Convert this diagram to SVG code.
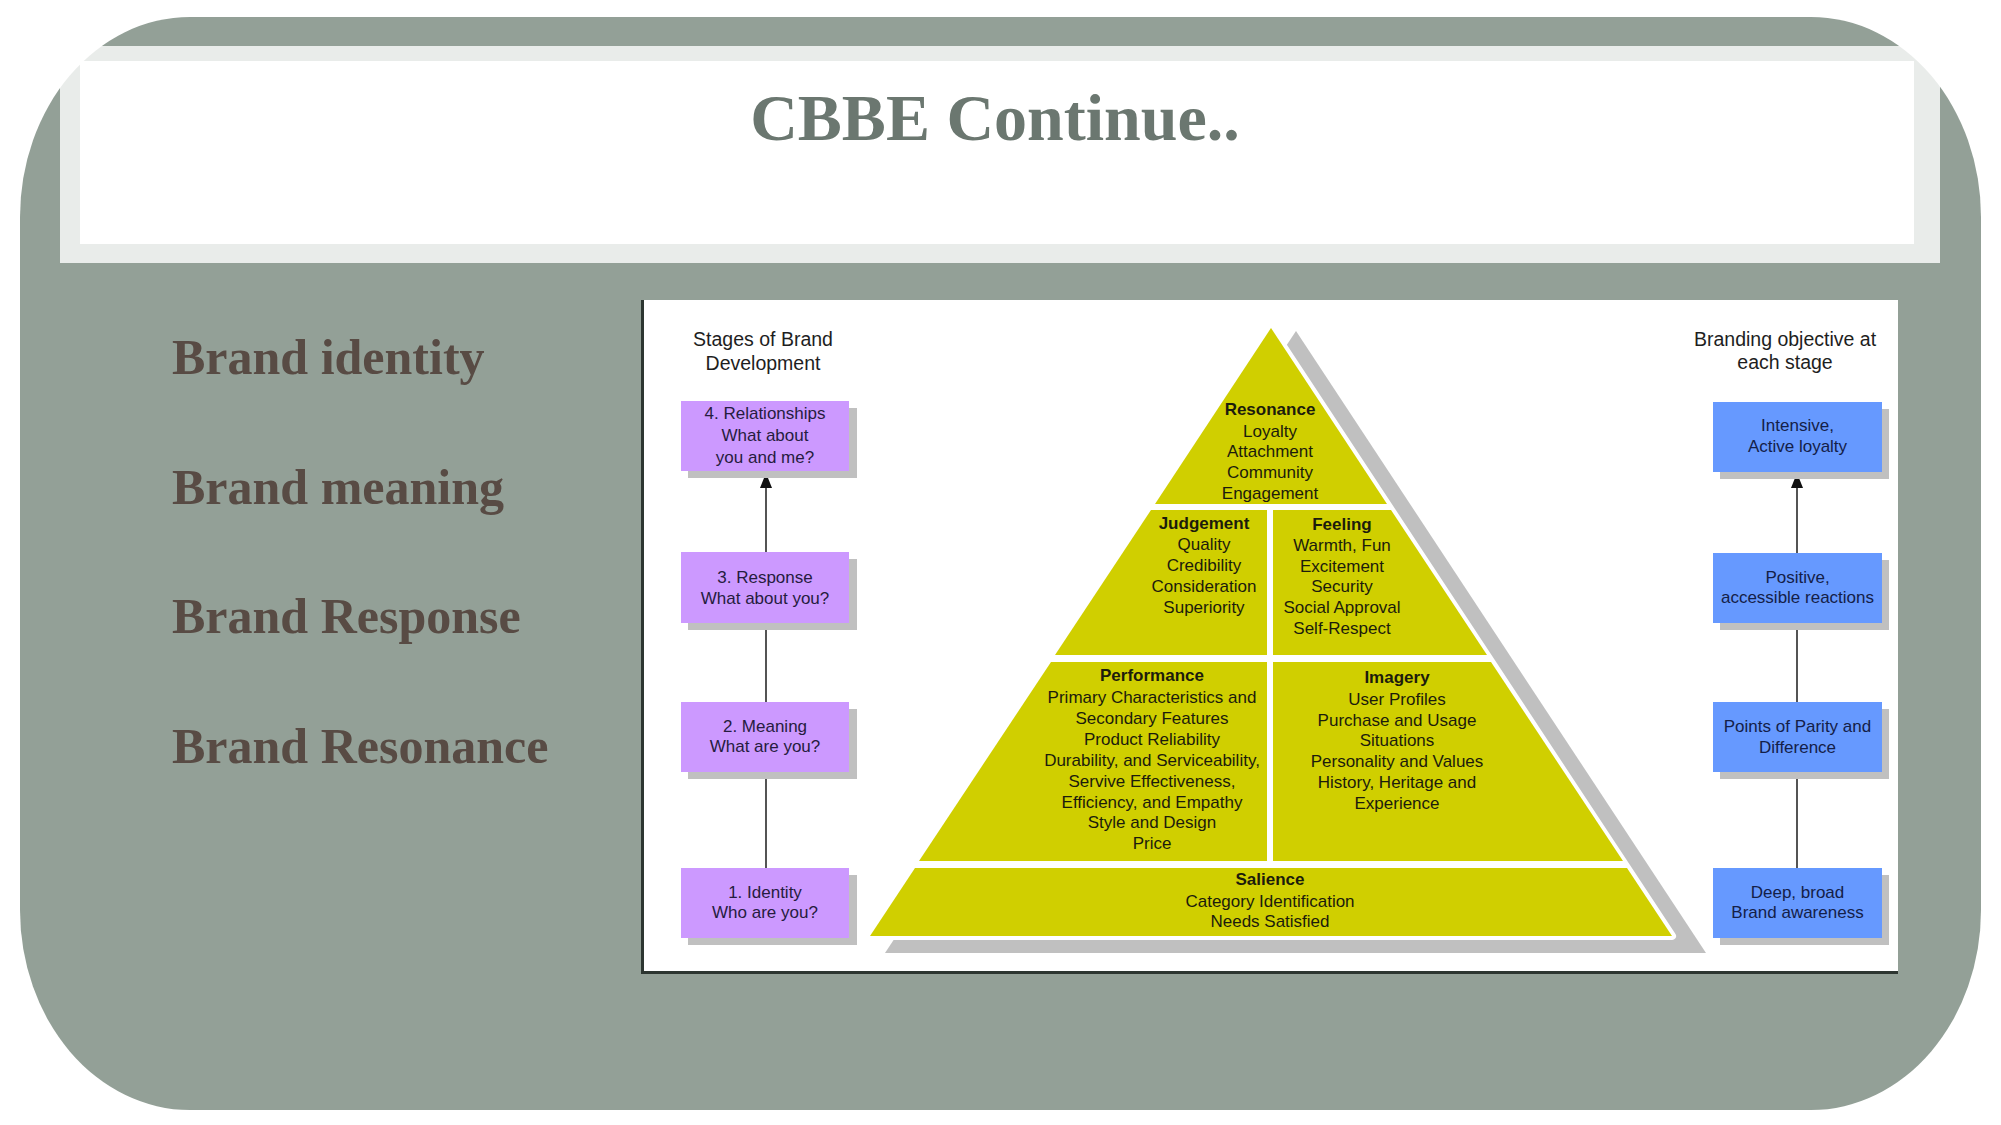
<svg xmlns="http://www.w3.org/2000/svg" width="2001" height="1125" viewBox="0 0 2001 1125">
<defs>
<style>
.bg{fill:#93a097}
.ttl{font-family:"Liberation Serif",serif;font-weight:bold;font-size:66px;fill:#6b7770;text-anchor:middle}
.lst{font-family:"Liberation Serif",serif;font-weight:bold;font-size:50px;fill:#584b44}
.hdr{font-family:"Liberation Sans",Arial,sans-serif;font-size:19.5px;fill:#1e1e1e;text-anchor:middle}
.pb{fill:#cc99ff}
.bb{fill:#6699ff}
.sh{fill:#c0c0c0}
.bt{font-family:"Liberation Sans",Arial,sans-serif;font-size:17px;fill:#261c40;text-anchor:middle}
.bbt{font-family:"Liberation Sans",Arial,sans-serif;font-size:17px;fill:#142048;text-anchor:middle}
.py{fill:#d0cf00}
.pt{font-family:"Liberation Sans",Arial,sans-serif;font-size:17px;fill:#1c1c0c;text-anchor:middle}
.ph{font-weight:bold}
.cn{stroke:#2a2a2a;stroke-width:1.6;fill:none}
</style>
<marker id="ah" viewBox="0 0 15 12" refX="15" refY="6" markerWidth="15" markerHeight="12" markerUnits="userSpaceOnUse" orient="auto">
<path d="M0,0 L15,6 L0,12 z" fill="#111"/>
</marker>
</defs>
<rect x="0" y="0" width="2001" height="1125" fill="#ffffff"/>
<path class="bg" d="M190 17 H1811 A170 200 0 0 1 1981 217 V910 A170 200 0 0 1 1811 1110 H190 A170 200 0 0 1 20 910 V217 A170 200 0 0 1 190 17 Z"/>
<g id="title">
<rect x="60" y="46" width="1880" height="217" fill="#ffffff" fill-opacity="0.8"/>
<rect x="80" y="61" width="1834" height="183" fill="#ffffff"/>
<text class="ttl" x="995" y="140">CBBE Continue..</text>
</g>
<g id="list">
<text class="lst" x="172" y="374">Brand identity</text>
<text class="lst" x="172" y="504">Brand meaning</text>
<text class="lst" x="172" y="633">Brand Response</text>
<text class="lst" x="172" y="763">Brand Resonance</text>
</g>
<g id="picture">
<rect x="641" y="300" width="1257" height="673" fill="#ffffff"/>
<line x1="642.5" y1="300" x2="642.5" y2="974" stroke="#2d3631" stroke-width="3"/>
<line x1="641" y1="972.5" x2="1898" y2="972.5" stroke="#2d3631" stroke-width="3"/>
<text class="hdr" x="763" y="346">Stages of Brand</text>
<text class="hdr" x="763" y="370">Development</text>
<text class="hdr" x="1785" y="346">Branding objective at</text>
<text class="hdr" x="1785" y="369">each stage</text>
</g>
<g id="pyramid">
<polygon class="sh" points="1296,331 1706,953 885,953"/>
<polygon points="1271,328 1672,936 870,936" fill="#ffffff" stroke="#ffffff" stroke-width="8" stroke-linejoin="round"/>
<g id="resonance">
<polygon class="py" points="1271,328 1387,504 1155,504"/>
<text class="pt ph" x="1270" y="415">Resonance</text>
<text class="pt" x="1270" y="437">Loyalty</text>
<text class="pt" x="1270" y="457">Attachment</text>
<text class="pt" x="1270" y="478">Community</text>
<text class="pt" x="1270" y="499">Engagement</text>
</g>
<g id="judgement">
<polygon class="py" points="1151,510 1267,510 1267,655 1055,655"/>
<text class="pt ph" x="1204" y="529">Judgement</text>
<text class="pt" x="1204" y="550">Quality</text>
<text class="pt" x="1204" y="571">Credibility</text>
<text class="pt" x="1204" y="592">Consideration</text>
<text class="pt" x="1204" y="613">Superiority</text>
</g>
<g id="feeling">
<polygon class="py" points="1273,510 1391,510 1487,655 1273,655"/>
<text class="pt ph" x="1342" y="530">Feeling</text>
<text class="pt" x="1342" y="551">Warmth, Fun</text>
<text class="pt" x="1342" y="572">Excitement</text>
<text class="pt" x="1342" y="592">Security</text>
<text class="pt" x="1342" y="613">Social Approval</text>
<text class="pt" x="1342" y="634">Self-Respect</text>
</g>
<g id="performance">
<polygon class="py" points="1051,662 1267,662 1267,861 919,861"/>
<text class="pt ph" x="1152" y="681">Performance</text>
<text class="pt" x="1152" y="703">Primary Characteristics and</text>
<text class="pt" x="1152" y="724">Secondary Features</text>
<text class="pt" x="1152" y="745">Product Reliability</text>
<text class="pt" x="1152" y="766">Durability, and Serviceability,</text>
<text class="pt" x="1152" y="787">Servive Effectiveness,</text>
<text class="pt" x="1152" y="808">Efficiency, and Empathy</text>
<text class="pt" x="1152" y="828">Style and Design</text>
<text class="pt" x="1152" y="849">Price</text>
</g>
<g id="imagery">
<polygon class="py" points="1273,662 1491,662 1623,861 1273,861"/>
<text class="pt ph" x="1397" y="683">Imagery</text>
<text class="pt" x="1397" y="705">User Profiles</text>
<text class="pt" x="1397" y="726">Purchase and Usage</text>
<text class="pt" x="1397" y="746">Situations</text>
<text class="pt" x="1397" y="767">Personality and Values</text>
<text class="pt" x="1397" y="788">History, Heritage and</text>
<text class="pt" x="1397" y="809">Experience</text>
</g>
<g id="salience">
<polygon class="py" points="915,868 1627,868 1672,936 870,936"/>
<text class="pt ph" x="1270" y="885">Salience</text>
<text class="pt" x="1270" y="907">Category Identification</text>
<text class="pt" x="1270" y="927">Needs Satisfied</text>
</g>
</g>
<g id="connectors">
<line class="cn" x1="766" y1="552" x2="766" y2="473" marker-end="url(#ah)"/>
<line class="cn" x1="766" y1="623" x2="766" y2="702"/>
<line class="cn" x1="766" y1="772" x2="766" y2="868"/>
<line class="cn" x1="1797" y1="553" x2="1797" y2="473" marker-end="url(#ah)"/>
<line class="cn" x1="1797" y1="623" x2="1797" y2="702"/>
<line class="cn" x1="1797" y1="772" x2="1797" y2="868"/>
</g>
<g id="stage4">
<rect class="sh" x="688" y="408" width="169" height="70"/>
<rect class="pb" x="681" y="401" width="168" height="70"/>
<text class="bt" x="765" y="419">4. Relationships</text>
<text class="bt" x="765" y="441">What about</text>
<text class="bt" x="765" y="463">you and me?</text>
</g>
<g id="stage3">
<rect class="sh" x="688" y="559" width="169" height="71"/>
<rect class="pb" x="681" y="552" width="168" height="71"/>
<text class="bt" x="765" y="583">3. Response</text>
<text class="bt" x="765" y="604">What about you?</text>
</g>
<g id="stage2">
<rect class="sh" x="688" y="709" width="169" height="70"/>
<rect class="pb" x="681" y="702" width="168" height="70"/>
<text class="bt" x="765" y="732">2. Meaning</text>
<text class="bt" x="765" y="752">What are you?</text>
</g>
<g id="stage1">
<rect class="sh" x="688" y="875" width="169" height="70"/>
<rect class="pb" x="681" y="868" width="168" height="70"/>
<text class="bt" x="765" y="898">1. Identity</text>
<text class="bt" x="765" y="918">Who are you?</text>
</g>
<g id="objective4">
<rect class="sh" x="1720" y="409" width="169" height="70"/>
<rect class="bb" x="1713" y="402" width="169" height="70"/>
<text class="bbt" x="1797.5" y="431">Intensive,</text>
<text class="bbt" x="1797.5" y="452">Active loyalty</text>
</g>
<g id="objective3">
<rect class="sh" x="1720" y="560" width="169" height="70"/>
<rect class="bb" x="1713" y="553" width="169" height="70"/>
<text class="bbt" x="1797.5" y="583">Positive,</text>
<text class="bbt" x="1797.5" y="603">accessible reactions</text>
</g>
<g id="objective2">
<rect class="sh" x="1720" y="709" width="169" height="70"/>
<rect class="bb" x="1713" y="702" width="169" height="70"/>
<text class="bbt" x="1797.5" y="732">Points of Parity and</text>
<text class="bbt" x="1797.5" y="753">Difference</text>
</g>
<g id="objective1">
<rect class="sh" x="1720" y="875" width="169" height="70"/>
<rect class="bb" x="1713" y="868" width="169" height="70"/>
<text class="bbt" x="1797.5" y="898">Deep, broad</text>
<text class="bbt" x="1797.5" y="918">Brand awareness</text>
</g>
</svg>
